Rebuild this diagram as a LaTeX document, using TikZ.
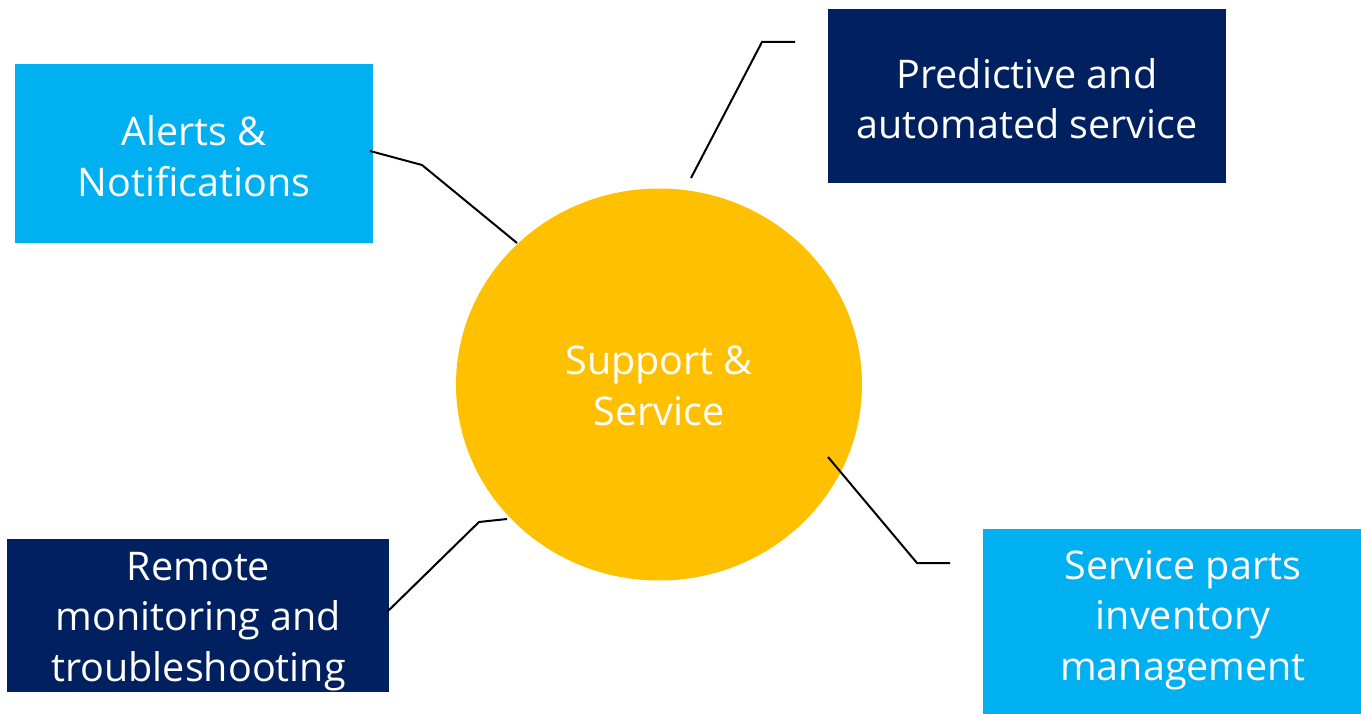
\documentclass[tikz,border=0pt]{standalone}
\usepackage{fontspec}
\setmainfont{Open Sans}
\usetikzlibrary{shapes.geometric}
\definecolor{lightblue}{HTML}{00B0F0}
\definecolor{navy}{HTML}{002060}
\definecolor{gold}{HTML}{FFC000}
\tikzset{
  label/.style={text=white, align=center, inner sep=0pt,
    font=\fontsize{39.5}{50.5}\selectfont},
  conn/.style={draw=black, line width=2pt, line join=miter},
}
\begin{document}
\begin{tikzpicture}[x=1pt,y=-1pt]
\useasboundingbox (0,0) rectangle (1361,714);
% boxes
\fill[lightblue] (15,64) rectangle (373,243);
\fill[navy] (828,9) rectangle (1226,183);
\fill[navy] (7,539) rectangle (389,692);
\fill[lightblue] (983,529) rectangle (1361,714);
% circle
\node[ellipse, fill=gold, minimum width=406pt, minimum height=392pt, inner sep=0pt] (c) at (659,384.5) {};
% texts
\node[label] (alerts) at (194,156) {Alerts \&\\Notifications};
\node[label] (pred) at (1027,98.5) {Predictive and\\automated service};
\node[label] (remote) at (198.5,621.5) {Remote\\monitoring and\\troubleshooting};
\node[label] (parts) at (1183,620) {Service parts\\inventory\\management};
\node[label] (support) at (659,386) {Support \&\\Service};
% connector points
\coordinate (a1) at (370,151);
\coordinate (a2) at (422,165);
\coordinate (a3) at (517,243);
\coordinate (p1) at (691,178);
\coordinate (p2) at (762,42);
\coordinate (p3) at (795,42);
\coordinate (r1) at (387,612);
\coordinate (r2) at (479,522);
\coordinate (r3) at (507,519);
\coordinate (s1) at (828,457);
\coordinate (s2) at (917,563);
\coordinate (s3) at (950,563);
\draw[conn] (a1) -- (a2) -- (a3);
\draw[conn] (p1) -- (p2) -- (p3);
\draw[conn] (r1) -- (r2) -- (r3);
\draw[conn] (s1) -- (s2) -- (s3);
\end{tikzpicture}
\end{document}
